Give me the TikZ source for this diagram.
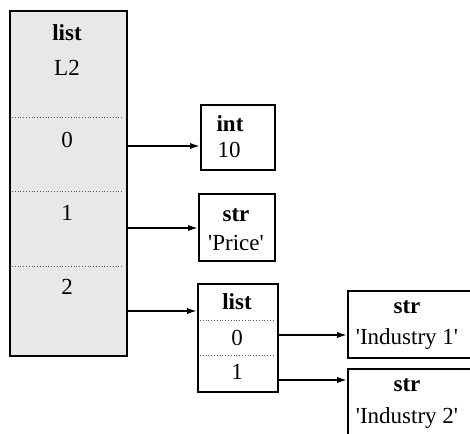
\documentclass[tikz,border=0pt]{standalone}
\usepackage{fontspec}
\setmainfont{Liberation Serif}[Ligatures=TeXOff]
\usetikzlibrary{arrows.meta}
\usetikzlibrary{positioning}

\tikzset{
    objbox/.style={draw, line width=0.9pt, anchor=north west, inner sep=0pt},
    lbl/.style={font=\fontsize{11.5}{13}\selectfont, inner sep=0pt},
    tname/.style={lbl, font=\fontsize{11.5}{13}\selectfont\bfseries},
    sep/.style={densely dotted, gray!70!black, line width=0.4pt},
    ptr/.style={line width=0.9pt, -{Latex[length=5pt,width=3.2pt]}},
}

\begin{document}
\begin{tikzpicture}[x=0.5pt, y=-0.5pt]
    \clip (0,0) rectangle (470,433);
    \fill[white] (0,0) rectangle (470,433);
    % outer list L2
    \node[objbox, fill=gray!18, minimum width=58.5pt, minimum height=172.5pt] (L2) at (9,10) {};
    \node[tname] (L2type) at (67,33) {list};
    \node[lbl] (L2name) at (67,68) {L2};
    \node[lbl] (L2i0) at (67,140) {0};
    \node[lbl] (L2i1) at (67,213) {1};
    \node[lbl] (L2i2) at (67,287) {2};
    \draw[sep] (12,117) -- (123,117);
    \draw[sep] (12,191) -- (123,191);
    \draw[sep] (12,266) -- (123,266);
    % int 10
    \node[objbox, minimum width=37pt, minimum height=32.5pt] (int10) at (200,104) {};
    \node[tname] (inttype) at (230,124) {int};
    \node[lbl] (intval) at (229,150) {10};
    % str Price
    \node[objbox, minimum width=38pt, minimum height=33.5pt] (price) at (198,193) {};
    \node[tname] (pricetype) at (236,215) {str};
    \node[lbl] (priceval) at (236,243) {'Price'};
    % inner list
    \node[objbox, minimum width=40pt, minimum height=54pt] (sub) at (197,283) {};
    \node[tname] (subtype) at (237,302) {list};
    \node[lbl] (subi0) at (237,338) {0};
    \node[lbl] (subi1) at (237,372) {1};
    \draw[sep] (200,320) -- (274,320);
    \draw[sep] (200,355) -- (274,355);
    % str Industry 1 / 2
    \node[objbox, minimum width=70pt, minimum height=33.5pt] (ind1) at (347,290) {};
    \node[tname] (ind1type) at (407,307) {str};
    \node[lbl] (ind1val) at (407,339) {'Industry 1'};
    \node[objbox, minimum width=70pt, minimum height=45pt] (ind2) at (347,368) {};
    \node[tname] (ind2type) at (407,385) {str};
    \node[lbl] (ind2val) at (407,418) {'Industry 2'};
    % pointers
    \coordinate (a0) at (0,146);
    \coordinate (a1) at (0,228);
    \coordinate (a2) at (0,311);
    \coordinate (b0) at (0,335);
    \coordinate (b1) at (0,380);
    \draw[ptr] (L2.east |- a0) -- (int10.west |- a0);
    \draw[ptr] (L2.east |- a1) -- (price.west |- a1);
    \draw[ptr] (L2.east |- a2) -- (sub.west |- a2);
    \draw[ptr] (sub.east |- b0) -- (ind1.west |- b0);
    \draw[ptr] (sub.east |- b1) -- (ind2.west |- b1);
\end{tikzpicture}
\end{document}
